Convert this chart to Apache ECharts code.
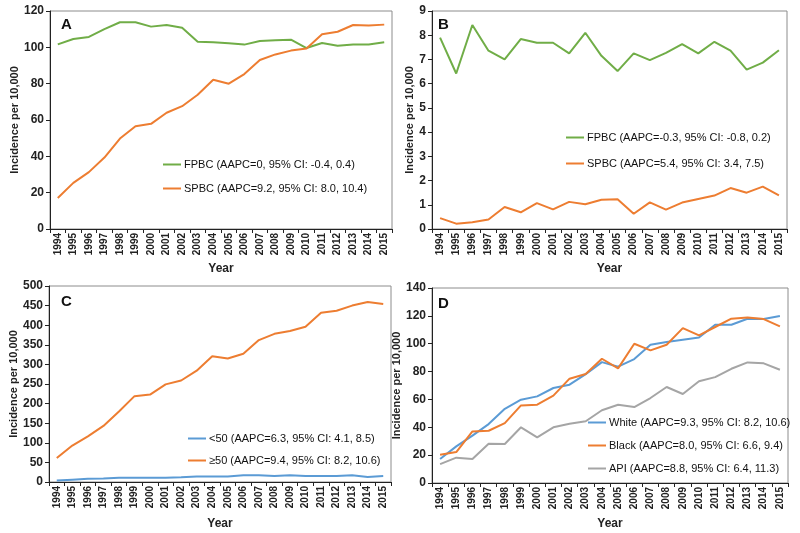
<!DOCTYPE html>
<html>
<head>
<meta charset="utf-8">
<script src="https://cdn.jsdelivr.net/npm/echarts@6/dist/echarts.min.js"></script>
<style>html,body{margin:0;padding:0;background:#fff}#c{width:800px;height:533px}</style>
</head>
<body>
<div id="c"></div>
<script>
const years = ['1994','1995','1996','1997','1998','1999','2000','2001','2002','2003','2004','2005','2006','2007','2008','2009','2010','2011','2012','2013','2014','2015'];

// Panel A
const aFPBC = [101.6,104.6,105.7,110,113.8,113.8,111.4,112.3,110.8,103.1,102.8,102.2,101.5,103.5,103.9,104.2,99.6,102.4,100.9,101.6,101.6,102.8];
const aSPBC = [17.1,25.4,31.3,39.3,49.8,56.6,57.9,64,67.6,73.9,82.2,80,85.3,93,96.1,98.2,99.4,107.2,108.6,112.3,112,112.5];
// Panel B
const bFPBC = [7.9,6.42,8.42,7.36,7.0,7.84,7.69,7.69,7.25,8.1,7.15,6.52,7.25,6.97,7.27,7.63,7.25,7.73,7.36,6.58,6.87,7.38];
const bSPBC = [0.45,0.22,0.28,0.39,0.91,0.69,1.07,0.81,1.12,1.02,1.21,1.23,0.63,1.10,0.80,1.09,1.24,1.38,1.69,1.50,1.75,1.39];
// Panel C
const cUnder50 = [4,6,8,9,11,11,11,11,12,14,14,14,17,17,15,17,15,15,15,17,13,15];
const cOver50 = [61,93,116.5,143,180,219,223,249,259,284,321,315,327,362,378,385,396,432,437,450,459,454];
// Panel D
const dWhite = [17.2,26.3,34,42.3,53.3,59.8,62.2,68.2,70.6,78.2,86.8,83.5,89,99.3,101.2,102.9,104.5,113.6,113.6,117.9,117.7,119.9];
const dBlack = [20.3,22.2,37,37.5,43,55.7,56.2,62.7,74.9,78.2,89.2,82.3,100,95.2,99.3,111.2,106,112,118,118.9,117.7,112.4];
const dAPI = [13.6,18.2,17.2,28.2,28,40,32.8,40,42.6,44.3,52.2,56.2,54.5,61,68.9,63.9,73,76,82,86.6,85.9,81.3];

const names = {
  aF: 'FPBC (AAPC=0, 95% CI: -0.4, 0.4)',
  aS: 'SPBC (AAPC=9.2, 95% CI: 8.0, 10.4)',
  bF: 'FPBC (AAPC=-0.3, 95% CI: -0.8, 0.2)',
  bS: 'SPBC (AAPC=5.4, 95% CI: 3.4, 7.5)',
  cU: '<50 (AAPC=6.3, 95% CI: 4.1, 8.5)',
  cO: '\u226550 (AAPC=9.4, 95% CI: 8.2, 10.6)',
  dW: 'White (AAPC=9.3, 95% CI: 8.2, 10.6)',
  dB: 'Black (AAPC=8.0, 95% CI: 6.6, 9.4)',
  dA: 'API (AAPC=8.8, 95% CI: 6.4, 11.3)'
};

const GREEN = '#70AD47', ORANGE = '#ED7D31', BLUE = '#5B9BD5', GRAY = '#A5A5A5';
const FONT = '"Liberation Sans", Arial, sans-serif';

const grids = [
  {left: 50, top: 11, width: 342, height: 218},
  {left: 432, top: 11, width: 355, height: 218},
  {left: 49, top: 286, width: 342, height: 196},
  {left: 432, top: 288, width: 356, height: 195}
].map(g => Object.assign(g, {show: true, borderColor: '#8c8c8c', borderWidth: 1, backgroundColor: 'transparent'}));

function xAx(i, gap) {
  return {
    type: 'category', gridIndex: i, data: years, boundaryGap: true,
    name: 'Year', nameLocation: 'middle', nameGap: gap,
    nameTextStyle: {fontFamily: FONT, fontWeight: 'bold', fontSize: 12, color: '#222'},
    axisLine: {lineStyle: {color: '#222', width: 1}},
    axisTick: {show: true, length: 4, lineStyle: {color: '#222'}},
    axisLabel: {rotate: 90, interval: 0, fontFamily: FONT, fontWeight: 'bold', fontSize: 10, color: '#222', margin: 4},
    splitLine: {show: false}
  };
}
function yAx(i, max, interval, gap) {
  return {
    type: 'value', gridIndex: i, min: 0, max: max, interval: interval,
    name: 'Incidence per 10,000', nameLocation: 'middle', nameGap: gap,
    nameTextStyle: {fontFamily: FONT, fontWeight: 'bold', fontSize: 11, color: '#222'},
    axisLine: {show: true, lineStyle: {color: '#222', width: 1}},
    axisTick: {show: true, length: 4, lineStyle: {color: '#222'}},
    axisLabel: {fontFamily: FONT, fontWeight: 'bold', fontSize: 12, color: '#222', margin: 6},
    splitLine: {show: false}
  };
}
function ser(name, data, color, i) {
  return {type: 'line', name: name, data: data, xAxisIndex: i, yAxisIndex: i, symbol: 'none',
    lineStyle: {color: color, width: 2}, itemStyle: {color: color}, z: color === GRAY ? 1 : 2};
}
function leg(data, left, top, gap) {
  return {orient: 'vertical', left: left, top: top, itemGap: gap, itemWidth: 18, itemHeight: 2, icon: 'rect',
    data: data, selectedMode: false, padding: 0,
    textStyle: {fontFamily: FONT, fontSize: 11, color: '#111', padding: [0,0,0,-2]}};
}
function letter(t, x, y) {
  return {type: 'text', left: x, top: y, style: {text: t, font: 'bold 15px ' + FONT, fill: '#111'}};
}

const option = {
  animation: false,
  grid: grids,
  xAxis: [xAx(0, 34), xAx(1, 34), xAx(2, 36), xAx(3, 35)],
  yAxis: [yAx(0, 120, 20, 30), yAx(1, 9, 1, 16), yAx(2, 500, 50, 21), yAx(3, 140, 20, 23)],
  legend: [
    leg([names.aF, names.aS], 163, 159, 13),
    leg([names.bF, names.bS], 566, 132, 15),
    leg([names.cU, names.cO], 188, 433, 11),
    leg([names.dW, names.dB, names.dA], 588, 417, 12)
  ],
  series: [
    ser(names.aF, aFPBC, GREEN, 0), ser(names.aS, aSPBC, ORANGE, 0),
    ser(names.bF, bFPBC, GREEN, 1), ser(names.bS, bSPBC, ORANGE, 1),
    ser(names.cU, cUnder50, BLUE, 2), ser(names.cO, cOver50, ORANGE, 2),
    ser(names.dA, dAPI, GRAY, 3), ser(names.dW, dWhite, BLUE, 3), ser(names.dB, dBlack, ORANGE, 3)
  ],
  graphic: [letter('A', 61, 17), letter('B', 438, 17), letter('C', 61, 294), letter('D', 438, 296)]
};
echarts.init(document.getElementById('c'), null, {renderer: 'canvas'}).setOption(option);
</script>
</body>
</html>
